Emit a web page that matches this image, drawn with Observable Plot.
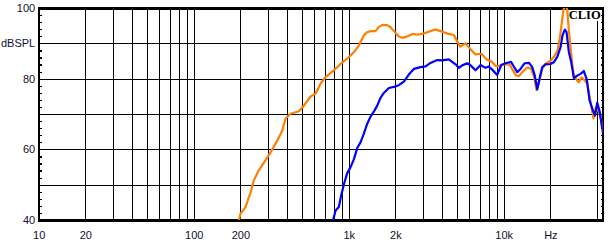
<!DOCTYPE html>
<html>
<head>
<meta charset="utf-8">
<script src="https://cdn.jsdelivr.net/npm/d3@7"></script>
<script src="https://cdn.jsdelivr.net/npm/@observablehq/plot@0.6"></script>
<style>
  html, body { margin: 0; padding: 0; background: #fff; }
  #chart svg { display: block; }
  #chart svg line, #chart svg rect, #chart g[aria-label$="tick"] path { shape-rendering: crispEdges; }
</style>
</head>
<body>
<div id="chart"></div>
<script>
// ---- Data ----
const orangeFreq = [194,199,214,231,242,261,288,311,343,370,388,418,473,510,563,606,653,703,796,879,994,1071,1153,1243,1307,1372,1478,1552,1640,1759,1847,1989,2089,2207,2367,2549,2746,2957,3185,3602,3880,4392,4731,4974,5202,5627,6062,6530,7137,7688,8281,8790,9235,9941,10820,11310,11920,12460,13070,14070,14890,15570,16160,16770,17590,18470,20040,21110,22080,22910,23530,24060,24790,25540,26110,26770,27460,28200,29580,30290,31520,33110,34310,35770,37570,39120,40900,42250,43500];
const orangeDb = [40.0,42.0,43.7,48.0,51.3,54.2,57.0,59.3,62.6,65.5,68.8,70.2,70.9,72.5,75.1,75.9,78.7,80.6,82.5,84.3,86.2,87.6,89.5,92.4,93.3,93.6,93.6,94.8,95.3,95.3,94.7,93.1,92.1,91.7,92.1,92.8,92.6,92.8,93.3,94.1,93.6,92.8,92.5,90.7,89.2,90.1,88.5,87.0,87.2,85.6,85.0,83.7,83.7,84.2,84.2,82.7,81.0,80.9,82.0,83.3,83.0,80.6,76.9,79.1,82.9,84.4,85.3,86.6,88.1,92.1,96.0,99.4,101.5,99.4,93.8,89.0,84.3,81.0,79.6,79.1,80.5,79.6,78.7,74.5,68.9,72.1,70.6,68.3,65.2];

const blueFreq = [786,816,857,885,923,971,1020,1071,1126,1183,1243,1307,1372,1441,1516,1592,1672,1801,1940,2089,2251,2424,2611,2884,3107,3346,3696,3981,4391,4851,5096,5358,5773,6062,6528,7033,7576,7955,8366,9013,9564,10195,11065,11532,12130,12740,13520,14455,15157,15753,16326,17022,17588,18474,19893,20893,21976,23076,23775,24603,25232,26113,27060,28120,29580,31070,32630,34110,35510,37400,38530,39810,41390,42560,43500];
const blueDb = [40.0,42.8,43.8,46.8,50.2,53.4,55.1,57.3,60.5,62.1,64.6,67.4,69.4,70.8,72.5,74.7,76.1,77.5,77.8,78.3,79.3,81.3,82.9,83.4,83.6,84.6,85.4,85.3,85.6,84.2,83.2,83.9,84.5,83.9,82.5,84.0,83.2,83.6,82.7,81.2,84.0,84.5,84.9,83.6,82.0,82.9,84.5,84.6,83.4,81.0,77.1,80.8,83.4,84.2,84.3,84.8,86.3,89.0,92.4,94.0,93.3,87.7,84.8,80.3,81.0,81.5,82.3,79.9,74.0,71.1,69.7,73.4,70.6,66.9,64.6];

// grid and tick values
const xGrid = [20,30,40,50,60,70,80,90,100,200,300,400,500,600,700,800,900,1000,2000,3000,4000,5000,6000,7000,8000,9000,10000,20000,40000];
const yGrid = [50,60,70,80,90];
const xTickValues = [10,20,50,100,200,500,1000,2000,5000,10000,20000,40000];
const xTickLabels = ["10","20","50","100","200","500","1k","2k","5k","10k","Hz","40k"];
const yTickValues = [100,90,80,60,40];
const yTickLabels = ["100","dBSPL","80","60","40"];
const yMinor = [42,44,46,48,52,54,56,58,62,64,66,68,72,74,76,78,82,84,86,88,92,94,96,98];
const xDomain = [10, 43500];
const yDomain = [40, 100];

const orange = orangeFreq.map((f, i) => ({f, db: orangeDb[i]}));
const blue = blueFreq.map((f, i) => ({f, db: blueDb[i]}));
const xLabelMap = new Map(xTickValues.map((v, i) => [v, xTickLabels[i]]));
const yLabelMap = new Map(yTickValues.map((v, i) => [v, yTickLabels[i]]));

const chart = Plot.plot({
  width: 610,
  height: 243,
  marginLeft: 38.7,
  marginRight: 7.3,
  marginTop: 8,
  marginBottom: 23,
  style: {fontFamily: "'Liberation Sans', Arial, sans-serif", fontSize: "11px", color: "#10102e", background: "#fff"},
  x: {type: "log", domain: xDomain},
  y: {domain: yDomain},
  marks: [
    Plot.ruleX(xGrid, {stroke: "black", strokeWidth: 1.2, shapeRendering: "crispEdges"}),
    Plot.ruleY(yGrid, {stroke: "black", strokeWidth: 1.2, shapeRendering: "crispEdges"}),
    Plot.text(["CLIO"], {frameAnchor: "top-right", dx: -2.5, dy: 2, textAnchor: "end", lineAnchor: "top",
      fontFamily: "'Liberation Serif', 'Times New Roman', serif", fontWeight: "bold", fontSize: 12.5,
      fill: "black", stroke: "white", strokeWidth: 4, paintOrder: "stroke"}),
    Plot.axisY(yMinor, {anchor: "left", tickSize: -3, text: null, label: null, stroke: "black", strokeWidth: 1.2, shapeRendering: "crispEdges"}),
    Plot.axisY(yMinor, {anchor: "right", tickSize: -3, text: null, label: null, stroke: "black", strokeWidth: 1.2, shapeRendering: "crispEdges"}),
    Plot.axisY(yTickValues, {anchor: "left", tickSize: 0, tickPadding: 4, label: null, tickFormat: d => yLabelMap.get(d)}),
    Plot.axisX(xTickValues, {anchor: "bottom", tickSize: 0, tickPadding: 11, label: null, tickFormat: d => xLabelMap.get(d)}),
    Plot.frame({stroke: "black", strokeWidth: 2.2, shapeRendering: "crispEdges"}),
    Plot.line(orange, {x: "f", y: "db", stroke: "#ff8000", strokeWidth: 2.2, clip: true}),
    Plot.line(blue, {x: "f", y: "db", stroke: "#0000ff", strokeWidth: 2.2, clip: true})
  ]
});
document.getElementById("chart").appendChild(chart);
</script>
</body>
</html>
